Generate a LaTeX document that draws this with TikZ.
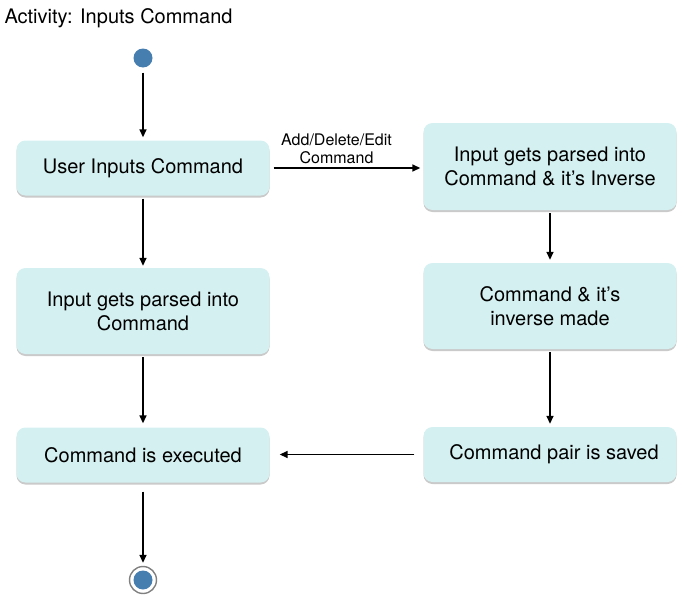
\documentclass[tikz,border=0pt]{standalone}
\usepackage{fontspec}
\setmainfont{TeX Gyre Heros}
\usetikzlibrary{arrows.meta,shadows}

\definecolor{actfill}{RGB}{213,240,241}
\definecolor{dotblue}{RGB}{71,126,176}

\tikzset{
    activity/.style={rectangle, rounded corners=9pt, fill=actfill,
        minimum width=253pt, align=center,
        font=\fontsize{20}{24}\selectfont,
        drop shadow={shadow xshift=0pt, shadow yshift=-2pt, opacity=0.35, fill=black!60}},
    flow/.style={-{Triangle[length=8pt,width=7pt]}, line width=1.5pt},
    startdot/.style={circle, fill=dotblue, minimum size=19pt, inner sep=0pt},
}

\begin{document}
\begin{tikzpicture}[x=1pt, y=-1pt]
\useasboundingbox (0,0) rectangle (681,597);

\node[anchor=west, font=\fontsize{20}{22}\selectfont] (title) at (1,18) {Activity: Inputs Command};

\node[startdot] (start) at (143,58) {};

\node[activity, minimum height=55pt] (userin) at (143,168) {User Inputs Command};
\node[activity, minimum height=86pt] (parse) at (143,311) {Input gets parsed into\\Command};
\node[activity, minimum height=55pt] (exec) at (143,455) {Command is executed};

\node[activity, minimum height=87pt] (parseinv) at (550,166.5) {Input gets parsed into\\Command \& it’s Inverse};
\node[activity, minimum height=86pt] (made) at (550,306) {Command \& it’s\\inverse made};
\node[activity, minimum height=55pt] (saved) at (550,454.5) {\hspace{8pt}\raisebox{-2pt}{Command pair is saved}};

\node[draw=gray, line width=1.4pt, circle, minimum size=27pt, inner sep=0pt] (stop) at (143,580) {};
\node[startdot] (stopdot) at (stop) {};

\draw[flow, shorten <=5pt, shorten >=3pt] (start) -- (userin);
\draw[flow, shorten <=3pt, shorten >=2pt] (userin) -- (parse);
\draw[flow, shorten <=3pt, shorten >=4pt] (parse) -- (exec);
\draw[flow, shorten <=9pt, shorten >=3pt] (exec) -- (stop);

\draw[flow, shorten <=4pt, shorten >=3pt] (userin) -- (userin -| parseinv.west)
    node[midway, above=0pt, xshift=-10pt, align=center, font=\fontsize{16}{18}\selectfont] {Add/Delete/Edit\\Command};
\draw[flow, shorten <=3pt, shorten >=3pt] (parseinv) -- (made);
\draw[flow, shorten <=3pt, shorten >=3pt] (made) -- (saved);
\draw[flow, shorten <=9pt, shorten >=10pt] (saved.west) -- (saved.west -| exec.east);
\end{tikzpicture}
\end{document}
